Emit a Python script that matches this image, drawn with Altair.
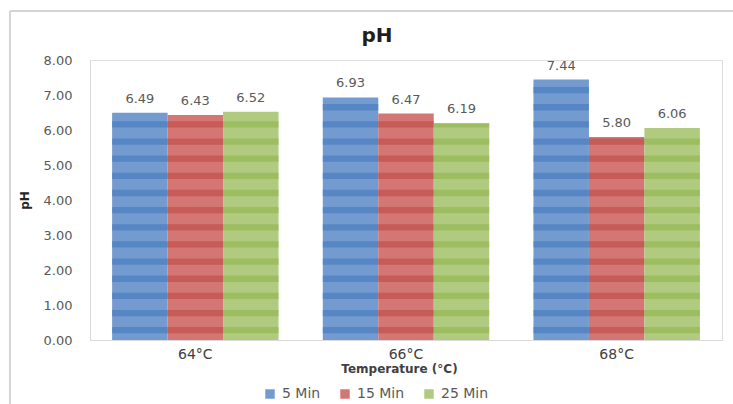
import altair as alt
import pandas as pd

categories = ["64°C", "66°C", "68°C"]
series = ["5 Min", "15 Min", "25 Min"]
min5 = [6.49, 6.93, 7.44]
min15 = [6.43, 6.47, 5.80]
min25 = [6.52, 6.19, 6.06]
y_ticks = [0, 1, 2, 3, 4, 5, 6, 7, 8]

light = ["#749BCF", "#D37674", "#B0CB80"]
dark = ["#4A7DBD", "#C0504D", "#95B852"]

rows = []
for s, vals in zip(series, [min5, min15, min25]):
    for c, v in zip(categories, vals):
        rows.append({"cat": c, "series": s, "value": v})
df = pd.DataFrame(rows)

# horizontal stripe texture (style only), clipped to each bar's value
period, first, thick = 0.49, 0.28, 0.18
srows = []
for r in rows:
    k = 0
    while True:
        lo = first + period * k - thick / 2
        if lo >= r["value"]:
            break
        hi = min(first + period * k + thick / 2, r["value"])
        srows.append({"cat": r["cat"], "series": r["series"], "lo": max(lo, 0), "hi": hi})
        k += 1
sdf = pd.DataFrame(srows)

FONT = "DejaVu Sans"

x_axis = alt.Axis(labelAngle=0, ticks=False, tickSize=0, domainColor="#D9D9D9",
                  labelFont=FONT, labelFontSize=14, labelColor="#404040", labelPadding=7,
                  titleFont=FONT, titleFontSize=12, titleFontWeight="bold",
                  titleColor="#404040", titlePadding=2, titleX=309)
x_scale = alt.Scale(paddingInner=0.21, paddingOuter=0.105)
y_axis = alt.Axis(values=y_ticks, format=".2f", grid=False, ticks=False, tickSize=0,
                  labelOverlap=False, domainColor="#D9D9D9", labelColor="#595959",
                  labelFont=FONT, labelFontSize=13, labelPadding=18, title="pH",
                  titleX=-66, titleY=140, titleAngle=270, titleAlign="center",
                  titleBaseline="middle", titleFont=FONT, titleFontSize=12,
                  titleFontWeight="bold", titleColor="#262626")
y_scale = alt.Scale(domain=[0, 8], nice=False)


def xenc():
    return alt.X("cat:N", sort=categories, title="Temperature (°C)", scale=x_scale, axis=x_axis)


def xoenc():
    return alt.XOffset("series:N", sort=series, scale=alt.Scale(paddingInner=0, paddingOuter=0))


bars = alt.Chart(df).mark_bar().encode(
    x=xenc(),
    xOffset=xoenc(),
    y=alt.Y("value:Q", scale=y_scale, axis=y_axis, title="pH"),
    color=alt.Color("series:N", sort=series,
                    scale=alt.Scale(domain=series, range=light),
                    legend=alt.Legend(orient="none", legendX=173, legendY=327,
                                      direction="horizontal", title=None,
                                      symbolType="square", symbolSize=90,
                                      symbolStrokeWidth=0, labelFont=FONT,
                                      labelFontSize=14, labelColor="#595959",
                                      columnPadding=17, labelOffset=5)),
)

stripes = alt.Chart(sdf).mark_bar().encode(
    x=xenc(),
    xOffset=xoenc(),
    y=alt.Y("lo:Q", scale=y_scale, axis=y_axis, title="pH"),
    y2="hi:Q",
    color=alt.Color("series:N", sort=series,
                    scale=alt.Scale(domain=series, range=dark), legend=None),
    opacity=alt.value(0.7),
)

labels = alt.Chart(df).mark_text(dy=-10, baseline="alphabetic", font=FONT,
                                 fontSize=13, color="#595959").encode(
    x=xenc(),
    xOffset=xoenc(),
    y=alt.Y("value:Q", scale=y_scale, axis=y_axis, title="pH"),
    text=alt.Text("value:Q", format=".2f"),
)

frame_top = alt.Chart(df).mark_rule(color="#D4D4D4", strokeWidth=1.5).encode(
    x=alt.value(-80), x2=alt.value(643), y=alt.value(-49),
)
frame_left = alt.Chart(df).mark_rule(color="#D4D4D4", strokeWidth=1.5).encode(
    x=alt.value(-80), y=alt.value(-49), y2=alt.value(344),
)

chart = alt.layer(frame_top, frame_left, bars, stripes, labels).resolve_scale(
    color="independent"
).properties(
    width=632, height=280,
    title=alt.TitleParams("pH", fontSize=20, font=FONT, fontWeight="bold",
                          color="#1F1F1F", dx=-29, offset=-36, anchor="middle"),
    autosize=alt.AutoSizeParams(type="none"),
    padding={"left": 90, "top": 60, "right": 11, "bottom": 64},
).configure_view(strokeWidth=0, strokeOpacity=0).configure(background="white")

chart.save("out.html", embed_options={"renderer": "svg", "actions": False})
